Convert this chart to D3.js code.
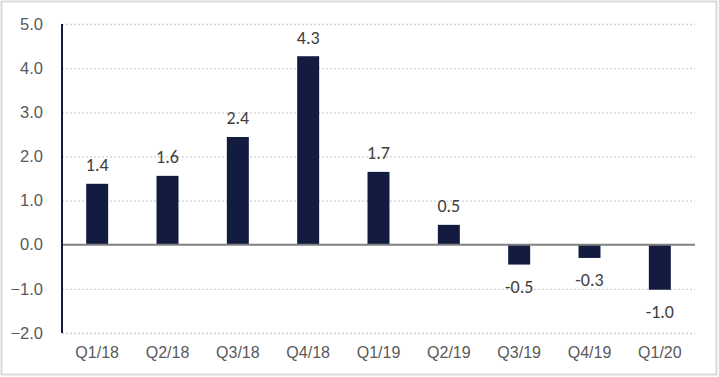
<!DOCTYPE html>
<html>
<head>
<meta charset="utf-8">
<script src="https://cdn.jsdelivr.net/npm/d3@7"></script>
<style>
  body { margin: 0; background: #fff; }
  svg { display: block; font-family: Carlito, Lato, "Liberation Sans", sans-serif; }
</style>
</head>
<body>
<div id="chart"></div>
<script>
// Quarterly values
const QUARTERS = ['Q1/18', 'Q2/18', 'Q3/18', 'Q4/18', 'Q1/19', 'Q2/19', 'Q3/19', 'Q4/19', 'Q1/20']
const VALUES = [1.38, 1.56, 2.44, 4.27, 1.65, 0.45, -0.45, -0.3, -1.02]
const LABELS = ['1.4', '1.6', '2.4', '4.3', '1.7', '0.5', '-0.5', '-0.3', '-1.0']
const Y_TICKS = [-2, -1, 0, 1, 2, 3, 4, 5]

const totalW = 719
const totalH = 377
const margin = { top: 24, right: 24, bottom: 44, left: 62 }
const W = totalW - margin.left - margin.right
const H = totalH - margin.top - margin.bottom

const svg = d3.select('#chart')
  .append('svg')
  .attr('width', totalW)
  .attr('height', totalH)

// Outer frame
svg.append('rect')
  .attr('x', 1.5).attr('y', 1.5)
  .attr('width', totalW - 4).attr('height', totalH - 4)
  .attr('fill', '#fff')
  .attr('stroke', '#d9d9d9')
  .attr('stroke-width', 2)

const g = svg.append('g').attr('transform', `translate(${margin.left},${margin.top})`)

const x = d3.scaleBand()
  .domain(QUARTERS)
  .range([0, W])
  .paddingInner(0.6875)
  .paddingOuter(0.34375)

const y = d3.scaleLinear()
  .domain([-2, 5])
  .range([H, 0])

// Dotted grid lines
g.append('g')
  .call(d3.axisLeft(y).tickValues(Y_TICKS.filter(d => d !== 0)).tickSize(-W).tickFormat(''))
  .call(a => a.select('.domain').remove())
  .call(a => a.selectAll('line')
    .attr('stroke', '#d0d0d0')
    .attr('stroke-width', 1.3)
    .attr('stroke-dasharray', '2,2'))

// Y tick labels
g.append('g')
  .call(d3.axisLeft(y).tickValues(Y_TICKS).tickSize(0).tickPadding(19).tickFormat(d3.format('.1f')))
  .call(a => a.select('.domain').remove())
  .call(a => a.selectAll('text')
    .attr('fill', '#595959')
    .attr('font-size', 16.5))

// Bars
g.selectAll('.bar')
  .data(VALUES)
  .enter().append('rect')
  .attr('class', 'bar')
  .attr('x', (d, i) => x(QUARTERS[i]))
  .attr('width', x.bandwidth())
  .attr('y', d => y(Math.max(0, d)))
  .attr('height', d => Math.abs(y(d) - y(0)))
  .attr('fill', '#131c40')

// Zero line
g.append('line')
  .attr('x1', 0).attr('x2', W)
  .attr('y1', y(0)).attr('y2', y(0))
  .attr('stroke', '#808080')
  .attr('stroke-width', 2)

// Y axis line
g.append('line')
  .attr('x1', 0).attr('x2', 0)
  .attr('y1', y(5)).attr('y2', y(-2))
  .attr('stroke', '#131c40')
  .attr('stroke-width', 2)

// Value labels
g.selectAll('.val')
  .data(VALUES)
  .enter().append('text')
  .attr('class', 'val')
  .attr('x', (d, i) => x(QUARTERS[i]) + x.bandwidth() / 2)
  .attr('y', d => d >= 0 ? y(d) - 19 : y(d) + 22)
  .attr('dy', '0.35em')
  .attr('text-anchor', 'middle')
  .attr('fill', '#404040')
  .attr('font-size', 18)
  .text((d, i) => LABELS[i])

// Category labels
g.append('g')
  .attr('transform', `translate(0,${H})`)
  .call(d3.axisBottom(x).tickSize(0).tickPadding(14))
  .call(a => a.select('.domain').remove())
  .call(a => a.selectAll('text')
    .attr('fill', '#595959')
    .attr('font-size', 16))
</script>
</body>
</html>
